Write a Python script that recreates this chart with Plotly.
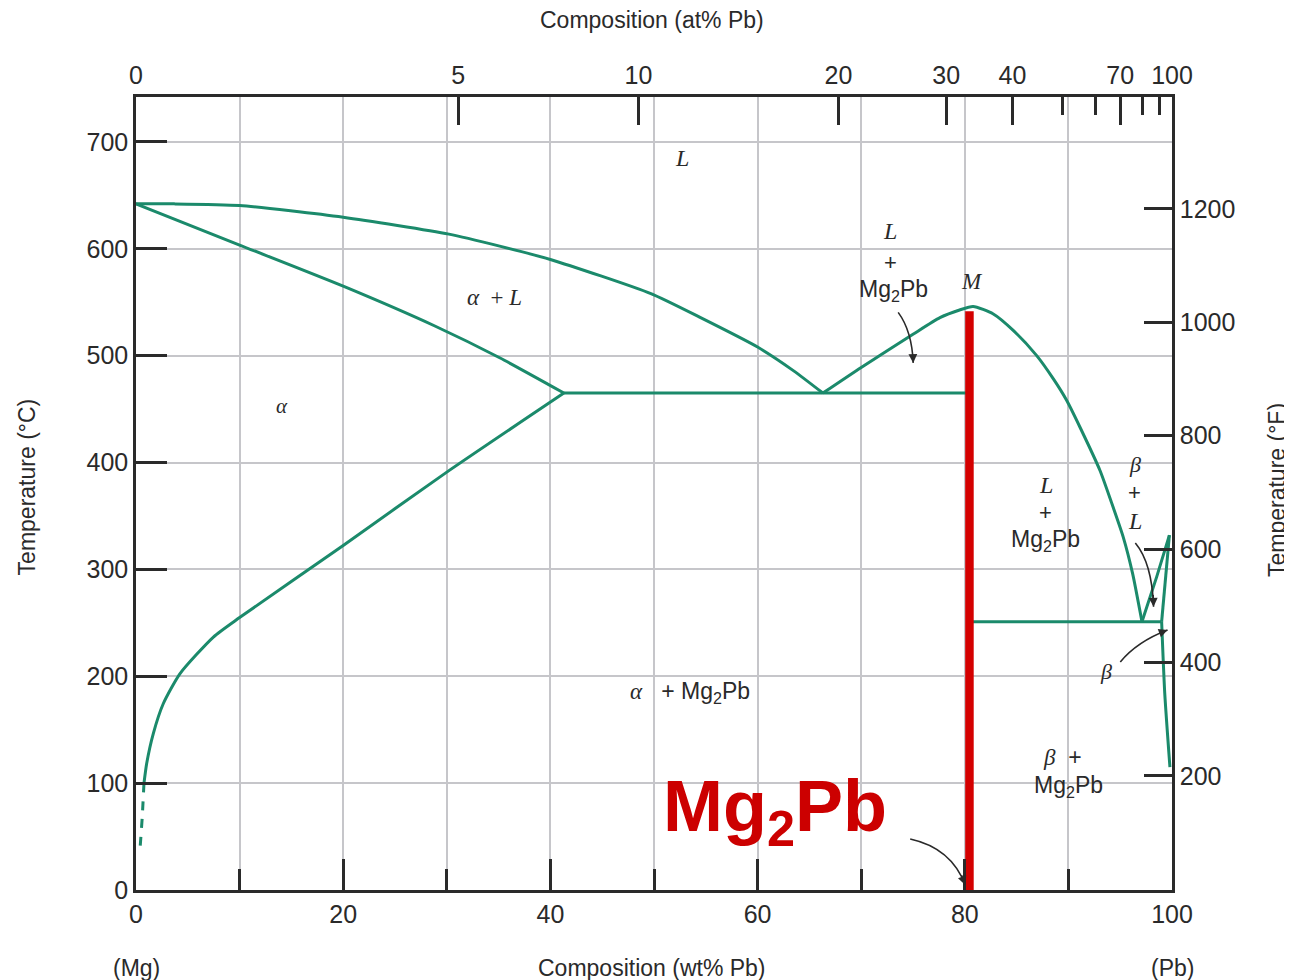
import plotly.graph_objects as go

# Mg-Pb phase diagram (wt% Pb, deg C)
liq_mg_wt = [0, 3.7, 10, 20, 30.2, 35.1, 40, 49.7, 54.4, 60, 63.45, 66.3]
liq_mg_t = [642, 642, 640.5, 629.5, 613.7, 602.5, 590, 558, 536, 508, 486, 465]

sol_mg_wt = [0, 10, 20, 28.9, 35.1, 41.3]
sol_mg_t = [642, 603.5, 565, 527.5, 498, 465]

solv_mg_wt = [41.3, 30, 20, 10, 7.47, 4.25, 2.64, 1.67, 1.03, 0.77]
solv_mg_t = [465, 391, 322.4, 254.9, 236.7, 202.5, 174.5, 146.4, 118.4, 100]

solv_dash_wt = [0.77, 0.6, 0.37]
solv_dash_t = [100, 68, 36]

eut1_wt = [41.3, 80.5]
eut1_t = [465, 465]

liq_m_wt = [66.3, 70, 75.0, 77.6, 79.5, 80.8, 82.75, 84.7, 86.94, 88.55, 89.84, 91.12, 93.05, 94.18, 95.3, 96.2, 97.1]
liq_m_t = [465, 489, 520, 535.5, 542.7, 546, 539, 523.4, 500, 478.2, 458, 433, 392.5, 362, 330, 296, 251]

eut2_wt = [80.5, 99.0]
eut2_t = [251, 251]

b_liq_wt = [97.1, 98.52, 99.75]
b_liq_t = [251, 293, 332]
b_sol_wt = [99.0, 99.75]
b_sol_t = [251, 332]
b_solv_wt = [99.0, 99.3, 99.8]
b_solv_t = [251, 184, 115]

mg2pb_wt = [80.45, 80.45]
mg2pb_t = [0, 541.5]

# top axis: at% Pb labels and where they sit on the wt% scale
at_labels = ["0", "5", "10", "20", "30", "40", "70", "100"]
at_pos = [0, 31.1, 48.5, 67.8, 78.2, 84.6, 95.0, 100]
at_minor = [89.4, 92.6, 97.2, 98.8]

wt_ticks = [0, 20, 40, 60, 80, 100]
c_ticks = [0, 100, 200, 300, 400, 500, 600, 700]
f_ticks = [200, 400, 600, 800, 1000, 1200]

GREEN = "#1b8a6b"
RED = "#d40000"
INK = "#2a2a2a"
GRID = "#c6c6ca"
SANS = "Liberation Sans"
SERIF = "Liberation Serif"

fig = go.Figure()


def curve(xs, ys, dash="solid", smooth=True):
    fig.add_trace(go.Scatter(x=xs, y=ys, mode="lines",
                             line=dict(color=GREEN, width=3, dash=dash,
                                       shape="spline" if smooth else "linear",
                                       smoothing=0.6),
                             hoverinfo="skip", showlegend=False))


curve(liq_mg_wt, liq_mg_t)
curve(sol_mg_wt, sol_mg_t)
curve(solv_mg_wt, solv_mg_t)
curve(solv_dash_wt, solv_dash_t, dash="dash")
curve(eut1_wt, eut1_t, smooth=False)
curve(liq_m_wt, liq_m_t)
curve(eut2_wt, eut2_t, smooth=False)
curve(b_liq_wt, b_liq_t)
curve(b_sol_wt, b_sol_t, smooth=False)
curve(b_solv_wt, b_solv_t)

fig.add_trace(go.Scatter(x=mg2pb_wt, y=mg2pb_t, mode="lines",
                         line=dict(color=RED, width=8.5),
                         hoverinfo="skip", showlegend=False))

# keeps the top and right axes alive
fig.add_trace(go.Scatter(x=[], y=[], xaxis="x2", yaxis="y2",
                         hoverinfo="skip", showlegend=False))

# white patch behind the big label
fig.add_shape(type="rect", xref="x", yref="y", x0=49.6, x1=74.7, y0=25.3, y1=128.2,
              fillcolor="white", line=dict(width=0), layer="below")


def label(x, y, text, size=23, family=SANS, color=INK):
    fig.add_annotation(x=x, y=y, xref="x", yref="y", text=text, showarrow=False,
                       font=dict(family=family, size=size, color=color))


def it(s):
    return "<i>" + s + "</i>"


greek_a = "<span style='font-family:Liberation Serif'><i>α</i></span>"
greek_b = "<span style='font-family:Liberation Serif'><i>β</i></span>"

label(52.7, 685, it("L"), 24, SERIF)
label(72.8, 617, it("L"), 24, SERIF)
label(72.8, 587, "+", 22)
label(73.1, 561, "Mg<sub>2</sub>Pb", 23)
label(80.7, 569, it("M"), 23, SERIF)
label(34.65, 554, it("α") + "  + " + it("L"), 23, SERIF)
label(14.1, 453, it("α"), 21, SERIF)
label(87.8, 379, it("L"), 24, SERIF)
label(87.8, 353, "+", 22)
label(87.8, 327, "Mg<sub>2</sub>Pb", 23)
label(96.4, 398, it("β"), 22, SERIF)
label(96.4, 372, "+", 22)
label(96.4, 345, it("L"), 24, SERIF)
label(93.65, 204, it("β"), 22, SERIF)
label(53.5, 185, greek_a + "   + Mg<sub>2</sub>Pb", 23)
label(89.4, 124.5, greek_b + "  +", 23)
label(90.0, 97, "Mg<sub>2</sub>Pb", 23)
label(61.7, 73, "<b>Mg<sub>2</sub>Pb</b>", 72, SANS, "#cc0000")

# curved pointer arrows: tail, control, head
arrows = [
    ((74.73, 47.7), (78.69, 39.3), (80.04, 4.7)),
    ((73.57, 540.5), (74.9, 523.0), (75.02, 493.2)),
    ((96.46, 324.7), (98.07, 306.0), (98.22, 265.1)),
    ((95.01, 213.4), (96.62, 232.4), (99.57, 243.3)),
]
for (tx, ty), (cx, cy), (hx, hy) in arrows:
    fig.add_shape(type="path", xref="x", yref="y",
                  path=f"M {tx},{ty} Q {cx},{cy} {hx},{hy}",
                  line=dict(color=INK, width=1.6))
    fig.add_annotation(x=hx, y=hy, ax=hx - 0.3 * (hx - cx), ay=hy - 0.3 * (hy - cy),
                       xref="x", yref="y", axref="x", ayref="y",
                       text="", showarrow=True, arrowhead=2, arrowsize=1.1,
                       arrowwidth=1.6, arrowcolor=INK, standoff=0)


def paper_text(x, y, text, angle=0, size=23):
    fig.add_annotation(x=x, y=y, xref="paper", yref="paper", text=text, showarrow=False,
                       textangle=angle, xanchor="center", yanchor="middle",
                       font=dict(family=SANS, size=size, color=INK))


paper_text(0.498, 1.097, "Composition (at% Pb)")
paper_text(0.498, -0.098, "Composition (wt% Pb)")
paper_text(0.0, -0.098, "(Mg)")
paper_text(1.0, -0.098, "(Pb)")
paper_text(-0.105, 0.508, "Temperature (°C)", -90)
paper_text(1.102, 0.504, "Temperature (°F)", -90)

tickfont = dict(family=SANS, size=25, color=INK)

# page body adds an 8px offset, so the figure is 8px smaller each way
fig.update_layout(
    width=1284, height=972,
    margin=dict(l=128, r=120, t=89, b=90),
    plot_bgcolor="white", paper_bgcolor="white",
    showlegend=False,
    xaxis=dict(range=[0, 100], tickmode="array", tickvals=wt_ticks,
               ticks="inside", ticklen=31, tickwidth=2.5, tickcolor=INK,
               showline=True, linecolor=INK, linewidth=2.5,
               showgrid=True, gridcolor=GRID, gridwidth=1.6, zeroline=False,
               minor=dict(dtick=10, ticks="inside", ticklen=21, tickwidth=2.5,
                          tickcolor=INK, showgrid=True, gridcolor=GRID, gridwidth=1.6),
               tickfont=tickfont),
    yaxis=dict(range=[0, 742], tickmode="array", tickvals=c_ticks,
               ticks="inside", ticklen=31, tickwidth=2.5, tickcolor=INK,
               showline=True, linecolor=INK, linewidth=2.5,
               showgrid=True, gridcolor=GRID, gridwidth=1.6, zeroline=False,
               tickfont=tickfont),
    xaxis2=dict(range=[0, 100], overlaying="x", side="top", anchor="y",
                tickmode="array", tickvals=at_pos, ticktext=at_labels,
                ticks="inside", ticklen=28, tickwidth=2.5, tickcolor=INK,
                showline=True, linecolor=INK, linewidth=2.5,
                showgrid=False, zeroline=False,
                minor=dict(tickmode="array", tickvals=at_minor, ticks="inside",
                           ticklen=18, tickwidth=2.5, tickcolor=INK, showgrid=False),
                tickfont=tickfont),
    yaxis2=dict(range=[-1, 1397], overlaying="y", side="right", anchor="x",
                tickmode="array", tickvals=f_ticks,
                ticks="inside", ticklen=28, tickwidth=2.5, tickcolor=INK,
                showline=True, linecolor=INK, linewidth=2.5,
                showgrid=False, zeroline=False,
                tickfont=tickfont),
)

fig.write_html("out.html")
